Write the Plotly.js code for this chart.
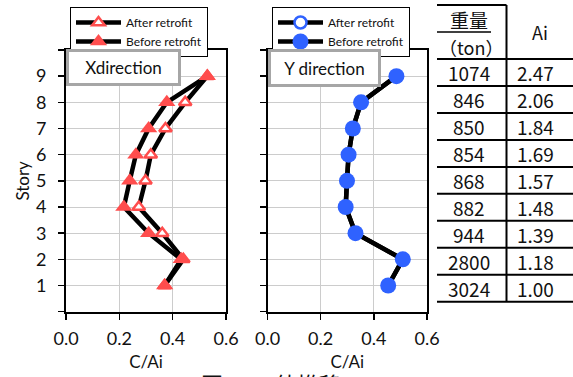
<!DOCTYPE html>
<html><head><meta charset="utf-8">
<script src="https://cdn.plot.ly/plotly-3.0.1.min.js"></script>
<style>html,body{margin:0;padding:0;background:#fff}#chart{width:573px;height:377px}</style>
</head><body><div id="chart"></div>
<script>
// ---- data ----
const stories = [1, 2, 3, 4, 5, 6, 7, 8, 9];
const xBefore = [0.37, 0.432, 0.31, 0.217, 0.239, 0.262, 0.31, 0.378, 0.53];
const xAfter  = [0.37, 0.44, 0.361, 0.273, 0.298, 0.318, 0.373, 0.447, 0.53];
const yBefore = [0.454, 0.509, 0.331, 0.294, 0.299, 0.305, 0.321, 0.352, 0.485];
const yAfter  = [0.454, 0.509, 0.331, 0.294, 0.299, 0.305, 0.321, 0.352, 0.485];
const weights = ['1074', '846', '850', '854', '868', '882', '944', '2800', '3024'];
const aiVals  = ['2.47', '2.06', '1.84', '1.69', '1.57', '1.48', '1.39', '1.18', '1.00'];
const seriesNames = ['After retrofit', 'Before retrofit'];
const xTicks = [0, 0.2, 0.4, 0.6];
const xTickText = ['0.0', '0.2', '0.4', '0.6'];
const yTicks = [0, 1, 2, 3, 4, 5, 6, 7, 8, 9, 10];
const yTickText = ['', '1', '2', '3', '4', '5', '6', '7', '8', '9', ''];

// ---- helpers (pixel -> paper) ----
const W = 573, H = 377;
const px = x => x / W;
const py = y => 1 - y / H;

const RED = '#ff4d4d', BLUE = '#2f62ff';
const FONT = 'Lato, "Open Sans", sans-serif';
const JP = '"Noto Sans CJK JP", sans-serif';

const traces = [
  {x: xAfter, y: stories, xaxis: 'x', yaxis: 'y', name: seriesNames[0], mode: 'lines+markers',
   line: {color: '#000', width: 4.5},
   marker: {symbol: 'triangle-up', size: 11, color: '#fff', line: {color: RED, width: 2.5}}, legend: 'legend'},
  {x: xBefore, y: stories, xaxis: 'x', yaxis: 'y', name: seriesNames[1], mode: 'lines+markers',
   line: {color: '#000', width: 4.5},
   marker: {symbol: 'triangle-up', size: 15, color: RED}, legend: 'legend'},
  {x: yAfter, y: stories, xaxis: 'x2', yaxis: 'y2', name: seriesNames[0], mode: 'lines+markers',
   line: {color: '#000', width: 4.5},
   marker: {symbol: 'circle', size: 12, color: '#fff', line: {color: BLUE, width: 2.5}}, legend: 'legend2'},
  {x: yBefore, y: stories, xaxis: 'x2', yaxis: 'y2', name: seriesNames[1], mode: 'lines+markers',
   line: {color: '#000', width: 4.5},
   marker: {symbol: 'circle', size: 16, color: BLUE}, legend: 'legend2'}
];

const yDom = [py(311.7), py(50)];
function xax(dom) {
  return {domain: dom, range: [0, 0.6], tickvals: xTicks, ticktext: xTickText,
    showgrid: true, gridcolor: '#cccccc', gridwidth: 1, zeroline: false,
    showline: true, linecolor: '#000', linewidth: 2, mirror: true,
    ticks: 'outside', ticklen: 6, tickwidth: 1.5, tickcolor: '#000', ticklabelstandoff: 4,
    tickfont: {family: FONT, size: 18, color: '#111'},
    title: {text: 'C/Ai', font: {family: FONT, size: 17, color: '#111'}, standoff: 8},
    automargin: false, fixedrange: true};
}
function yax(dom, anchor, labels) {
  return {domain: dom, anchor: anchor, range: [0, 10], tickvals: yTicks, ticktext: yTickText,
    showticklabels: labels, showgrid: true, gridcolor: '#cccccc', gridwidth: 1, zeroline: false,
    showline: true, linecolor: '#000', linewidth: 2, mirror: true,
    ticks: 'outside', ticklen: 6, tickwidth: 1.5, tickcolor: '#000', ticklabelstandoff: 8,
    tickfont: {family: FONT, size: 18, color: '#111'},
    automargin: false, fixedrange: true};
}

const legendBase = {xanchor: 'left', y: py(7), yanchor: 'top', bgcolor: '#fff', itemwidth: 45,
  bordercolor: '#000', borderwidth: 1, font: {family: FONT, size: 12, color: '#111'}, tracegroupgap: 0};

const layout = {
  width: W, height: H, margin: {l: 0, r: 0, t: 0, b: 0},
  paper_bgcolor: '#fff', plot_bgcolor: '#fff', showlegend: true,
  font: {family: FONT, color: '#111'},
  xaxis: xax([px(66), px(226)]),
  yaxis: Object.assign(yax(yDom, 'x', true), {title: {text: 'Story', font: {family: FONT, size: 17, color: '#111'}, standoff: 2}}),
  xaxis2: Object.assign(xax([px(267.5), px(427)]), {anchor: 'y2'}),
  yaxis2: yax(yDom, 'x2', false),
  legend: Object.assign({x: px(70)}, legendBase),
  legend2: Object.assign({x: px(272)}, legendBase),
  annotations: [],
  shapes: []
};

// direction label boxes
layout.annotations.push({xref: 'paper', yref: 'paper', x: px(66), y: py(49), xanchor: 'left', yanchor: 'top',
  text: 'Xdirection', showarrow: false, width: 103, height: 25, borderpad: 3, borderwidth: 3,
  bordercolor: '#a6a6a6', bgcolor: '#fff', font: {family: FONT, size: 17, color: '#111'}});
layout.annotations.push({xref: 'paper', yref: 'paper', x: px(267.5), y: py(49), xanchor: 'left', yanchor: 'top',
  text: 'Y direction', showarrow: false, width: 101, height: 26, borderpad: 3, borderwidth: 3,
  bordercolor: '#a6a6a6', bgcolor: '#fff', font: {family: FONT, size: 17, color: '#111'}});

// table
const tL = 437, tM = 506.5, tR = 573;
const lineYs = [];
for (let i = 0; i <= weights.length; i++) lineYs.push(59 + i * 26.97);
const lineStyle = {color: '#000', width: 2};
lineYs.forEach(yv => layout.shapes.push({type: 'line', xref: 'paper', yref: 'paper',
  x0: px(tL), x1: px(tR), y0: py(yv), y1: py(yv), line: lineStyle}));
layout.shapes.push({type: 'line', xref: 'paper', yref: 'paper', x0: px(tM), x1: px(tM), y0: py(5), y1: py(lineYs[lineYs.length - 1]), line: lineStyle});
layout.shapes.push({type: 'line', xref: 'paper', yref: 'paper', x0: px(tL), x1: px(tM), y0: py(5), y1: py(5), line: lineStyle});
layout.shapes.push({type: 'line', xref: 'paper', yref: 'paper', x0: px(tL), x1: px(491), y0: py(32), y1: py(32), line: {color: '#000', width: 1.5}});

const tFont = {family: JP, size: 19, color: '#111'};
function tText(x, y, t, size) {
  layout.annotations.push({xref: 'paper', yref: 'paper', x: px(x), y: py(y), xanchor: 'center', yanchor: 'middle',
    text: t, showarrow: false, font: Object.assign({}, tFont, size ? {size: size} : {})});
}
tText(469, 19, '重量', 19);
tText(471, 47, '（ton）', 18);
tText(540, 32, 'Ai', 18);
weights.forEach((w, i) => {
  const cy = (lineYs[i] + lineYs[i + 1]) / 2;
  tText(469, cy, w);
  tText(535, cy, aiVals[i]);
});

// caption (cut off at bottom, as in the source figure)
layout.annotations.push({xref: 'paper', yref: 'paper', x: px(271), y: py(383), xanchor: 'center', yanchor: 'middle',
  text: '図 3 - 3 値推移', showarrow: false, font: {family: JP, size: 22, color: '#111'}});

Plotly.newPlot('chart', traces, layout, {displayModeBar: false, staticPlot: true});
</script></body></html>
